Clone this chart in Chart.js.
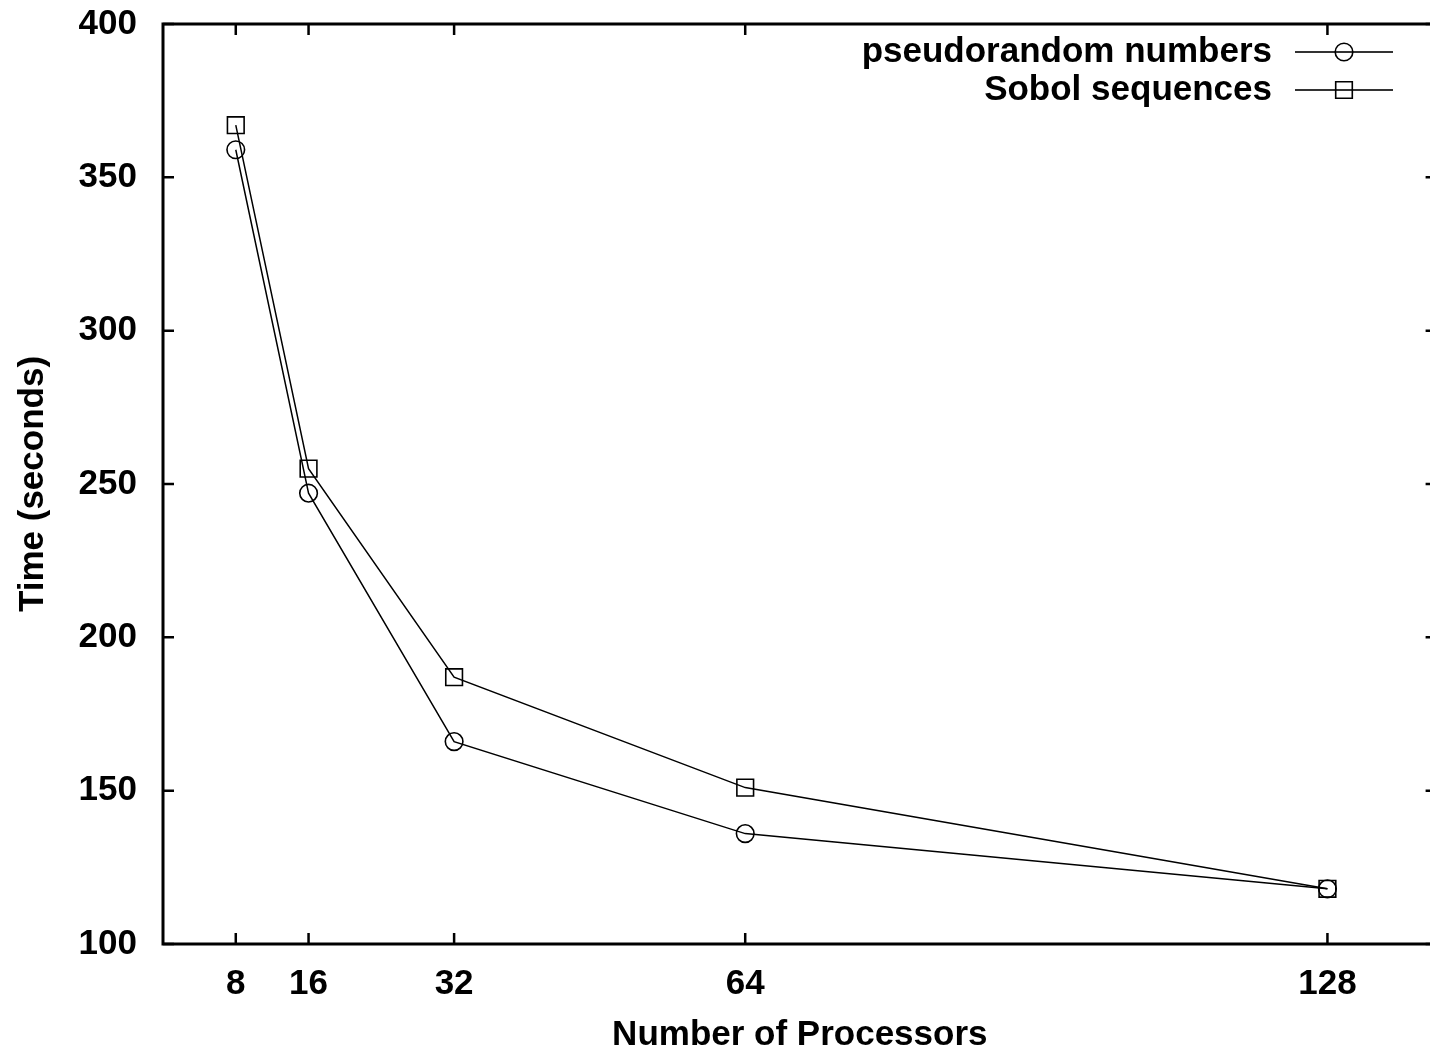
<!DOCTYPE html>
<html>
<head>
<meta charset="utf-8">
<script src="https://cdn.jsdelivr.net/npm/chart.js@4/dist/chart.umd.min.js"></script>
<style>
  html, body { margin: 0; padding: 0; background: #fff; overflow: hidden; }
  #wrap { width: 1450px; height: 1058px; }
</style>
</head>
<body>
<div id="wrap"><canvas id="c" width="1450" height="1058"></canvas></div>
<script>
// Run time against processor count for the two random sources
const processors = [8, 16, 32, 64, 128];
const pseudorandomTimes = [359, 247, 166, 136, 118];
const sobolTimes = [367, 255, 187, 151, 118];
const seriesNames = ['pseudorandom numbers', 'Sobol sequences'];
const yTickValues = [100, 150, 200, 250, 300, 350, 400];

const FONT = { family: '"Liberation Sans", Arial, Helvetica, sans-serif', size: 35, weight: 'bold' };
const fontStr = `bold 35px "Liberation Sans", Arial, Helvetica, sans-serif`;

function pts(values) {
  return processors.map((p, i) => ({ x: p, y: values[i] }));
}

// Frame with inward tick marks on all four sides
const framePlugin = {
  id: 'frame',
  afterDatasetsDraw(chart) {
    const { ctx, chartArea: a, scales } = chart;
    ctx.save();
    ctx.strokeStyle = '#000';
    ctx.lineWidth = 2.5;
    const tl = 11;
    ctx.beginPath();
    processors.forEach(v => {
      const x = scales.x.getPixelForValue(v);
      ctx.moveTo(x, a.bottom); ctx.lineTo(x, a.bottom - tl);
      ctx.moveTo(x, a.top); ctx.lineTo(x, a.top + tl);
    });
    yTickValues.forEach(v => {
      const y = scales.y.getPixelForValue(v);
      ctx.moveTo(a.left, y); ctx.lineTo(a.left + tl, y);
      ctx.moveTo(a.right, y); ctx.lineTo(a.right - tl, y);
    });
    ctx.stroke();
    ctx.lineWidth = 3;
    ctx.strokeRect(a.left, a.top, a.right - a.left, a.bottom - a.top);
    ctx.restore();
  }
};

// Key in the top-right corner: label, then a line sample with its marker
const keyPlugin = {
  id: 'key',
  afterDraw(chart) {
    const { ctx } = chart;
    const textRight = 1272, lineL = 1295, lineR = 1393, markX = 1344;
    const rows = [52, 90];
    ctx.save();
    ctx.font = fontStr;
    ctx.fillStyle = '#000';
    ctx.textAlign = 'right';
    ctx.textBaseline = 'middle';
    chart.data.datasets.forEach((ds, i) => {
      const y = rows[i];
      ctx.fillText(ds.label, textRight, y);
      ctx.strokeStyle = '#333';
      ctx.lineWidth = 1.8;
      ctx.beginPath();
      ctx.moveTo(lineL, y); ctx.lineTo(lineR, y);
      ctx.stroke();
      ctx.strokeStyle = '#000';
      ctx.lineWidth = 1.6;
      ctx.beginPath();
      if (ds.pointStyle === 'circle') {
        ctx.arc(markX, y, 8.8, 0, Math.PI * 2);
      } else {
        ctx.rect(markX - 8.3, y - 8.3, 16.6, 16.6);
      }
      ctx.stroke();
    });
    ctx.restore();
  }
};

new Chart(document.getElementById('c'), {
  type: 'line',
  data: {
    datasets: [
      {
        label: seriesNames[0],
        data: pts(pseudorandomTimes),
        borderColor: '#000',
        borderWidth: 1.5,
        pointStyle: 'circle',
        pointRadius: 8.8,
        pointBorderWidth: 1.6,
        pointBackgroundColor: 'rgba(0,0,0,0)',
        pointBorderColor: '#000',
        tension: 0
      },
      {
        label: seriesNames[1],
        data: pts(sobolTimes),
        borderColor: '#000',
        borderWidth: 1.5,
        pointStyle: 'rect',
        pointRadius: 11.8,
        pointBorderWidth: 1.6,
        pointBackgroundColor: 'rgba(0,0,0,0)',
        pointBorderColor: '#000',
        tension: 0
      }
    ]
  },
  options: {
    responsive: false,
    animation: false,
    layout: { padding: { top: 24, right: 0, left: 0, bottom: 0 } },
    plugins: { legend: { display: false }, tooltip: { enabled: false } },
    scales: {
      x: {
        type: 'linear',
        min: 0,
        max: 140,
        afterBuildTicks(scale) { scale.ticks = processors.map(v => ({ value: v })); },
        afterFit(scale) {
          scale.height = 114;
          scale.paddingLeft = 0; scale.paddingRight = 0;
        },
        grid: { display: false, drawTicks: false },
        border: { display: false },
        ticks: { color: '#000', font: FONT, padding: 19, maxRotation: 0, autoSkip: false },
        title: { display: true, text: 'Number of Processors', color: '#000', font: FONT, padding: { top: 0, bottom: 2 } }
      },
      y: {
        type: 'linear',
        min: 100,
        max: 400,
        afterBuildTicks(scale) { scale.ticks = yTickValues.map(v => ({ value: v })); },
        afterFit(scale) {
          scale.width = 163;
          scale.paddingTop = 0; scale.paddingBottom = 0;
        },
        grid: { display: false, drawTicks: false },
        border: { display: false },
        ticks: { color: '#000', font: FONT, padding: 26 },
        title: { display: true, text: 'Time (seconds)', color: '#000', font: FONT, padding: { top: 12, bottom: 0 } }
      }
    }
  },
  plugins: [framePlugin, keyPlugin]
});
</script>
</body>
</html>
